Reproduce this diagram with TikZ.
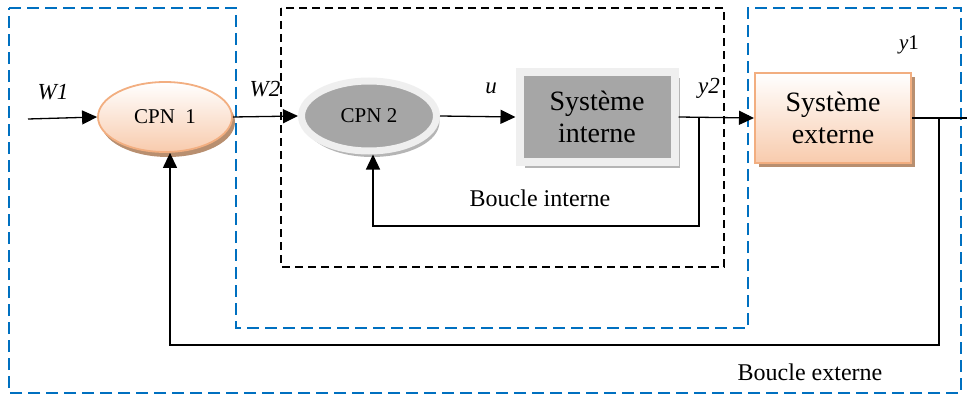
\documentclass[tikz,border=0pt]{standalone}
\usepackage{fontspec}
\setmainfont{Liberation Serif}
\usetikzlibrary{arrows.meta,shapes.geometric,shadows,calc}
\definecolor{peach}{HTML}{F8CBAD}
\definecolor{peachdark}{HTML}{F2AE80}
\definecolor{brownshadow}{HTML}{B88F70}
\definecolor{greyin}{HTML}{A6A6A6}
\definecolor{greyout}{HTML}{EFEFEF}
\definecolor{greyshadow}{HTML}{B5B5B5}
\definecolor{dashblue}{HTML}{0070C0}

\begin{document}
\begin{tikzpicture}[x=1pt,y=-1pt,
    fl/.style={-{Triangle[length=15pt,width=14pt]},line width=1.3pt},
    ln/.style={line width=1.3pt},
    lbl/.style={font=\fontsize{23}{25}\selectfont\itshape},
    txt/.style={font=\fontsize{24}{26}\selectfont},
    cpnorange/.style={ellipse,draw=peachdark,line width=1.8pt,top color=white,bottom color=peach,
        minimum width=134pt,minimum height=70pt,inner sep=0pt,
        drop shadow={shadow xshift=3pt,shadow yshift=-5pt,fill=brownshadow,opacity=1},
        font=\fontsize{21}{23}\selectfont},
    cpngrey/.style={ellipse,draw=greyout,line width=7pt,fill=greyin,
        minimum width=135pt,minimum height=70pt,inner sep=0pt,
        drop shadow={shadow xshift=3pt,shadow yshift=-6pt,fill=greyshadow,opacity=1},
        font=\fontsize{21}{23}\selectfont},
    sysgrey/.style={rectangle,draw=greyout,line width=8pt,fill=greyin,
        minimum width=155pt,minimum height=90pt,align=center,
        drop shadow={shadow xshift=5pt,shadow yshift=-6pt,fill=greyshadow,opacity=1},
        font=\fontsize{28}{32}\selectfont},
    sysorange/.style={rectangle,draw=peachdark,line width=2pt,top color=white,bottom color=peach,
        minimum width=156pt,minimum height=90pt,align=center,
        drop shadow={shadow xshift=4pt,shadow yshift=-4pt,fill=brownshadow,opacity=1},
        font=\fontsize{28}{32}\selectfont}]
    \useasboundingbox (0,0) rectangle (967,396);
    \draw[dashblue,line width=1.8pt,dash pattern=on 12pt off 6pt]
        (9,8) -- (236,8) -- (236,328) -- (748,328) -- (748,8) -- (961,8) -- (961,393) -- (9,393) -- cycle;
    \draw[line width=1.6pt,dash pattern=on 8pt off 5pt] (281,8) rectangle (724,267);

    \node[cpnorange] (cpnA) at (165,117) {CPN\ \ 1};
    \node[cpngrey] (cpnB) at (369,116) {CPN 2};
    \node[sysgrey] (sysInt) at (597,117) {Système\\interne};
    \node[sysorange] (sysExt) at (833,118) {Système\\externe};

    \coordinate (in) at (28,119);
    \coordinate (out) at (967,118);
    \coordinate (tapI) at (699,117);
    \coordinate (tapE) at (939,118);

    \draw[fl] (in) -- (cpnA.west);
    \draw[fl] (cpnA.east) -- (cpnB.west);
    \draw[fl] (cpnB.east) -- (sysInt.west);
    \draw[fl] (sysInt.east) -- (sysExt.west);
    \draw[ln] (sysExt.east) -- (out);
    \draw[fl] (tapI) -- (tapI |- 0,226) -| ([xshift=4pt]cpnB.south);
    \draw[fl] (tapE) -- (tapE |- 0,345) -| ([xshift=5pt]cpnA.south);

    \node[lbl] (lW1) at (53,92) {W1};
    \node[lbl] (lW2) at (265,89) {W2};
    \node[lbl] (lu) at (491,88) {u};
    \node[lbl] (ly2) at (709,88) {y2};
    \node[txt,font=\fontsize{21}{23}\selectfont] (ly1) at (909,45) {\textit{y}1};
    \node[txt] (lbi) at (540,198) {Boucle interne};
    \node[txt] (lbe) at (810,372) {Boucle externe};
\end{tikzpicture}
\end{document}
